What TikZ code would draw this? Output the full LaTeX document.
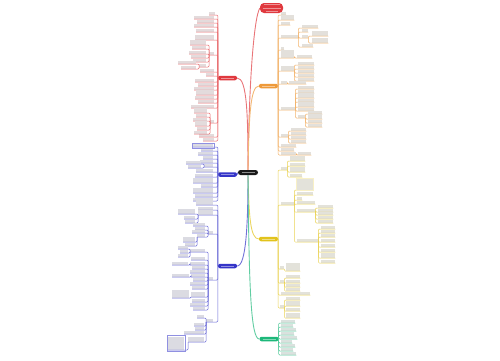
\documentclass[tikz,border=0pt]{standalone}
\usepackage{tikz}
\definecolor{redb}{HTML}{E0393E}
\definecolor{orangeb}{HTML}{EE9A3A}
\definecolor{yellowb}{HTML}{E2C31C}
\definecolor{blueb}{HTML}{3535C8}
\definecolor{greenb}{HTML}{1DB87A}
\colorlet{br}{black}
\tikzset{
  leaf/.style={anchor=south west, inner sep=0, fill=br!30!black!15},
  conn/.style={br!75, line width=0.5pt, rounded corners=1pt},
  mainnode/.style={fill=#1, rounded corners=2pt, minimum width=19pt, minimum height=4.5pt, inner sep=0, text=#1!55!white},
  mainlink/.style={#1!70, line width=0.9pt},
  framed/.style={draw=br!55, line width=0.4pt}
}
\newcommand\leafl[6]{%
  \pgfmathsetmacro\lw{#4-#3}\pgfmathsetmacro\lh{#5*2.6}%
  \node[leaf, minimum width=\lw pt, minimum height=\lh pt] (#1) at (#3,#2) {};
  \draw[conn] (#1.south west) -- (#1.south east) -| (#6);}
\newcommand\leafr[6]{%
  \pgfmathsetmacro\lw{#4-#3}\pgfmathsetmacro\lh{#5*2.6}%
  \node[leaf, minimum width=\lw pt, minimum height=\lh pt] (#1) at (#3,#2) {};
  \draw[conn] (#1.south east) -- (#1.south west) -| (#6);}

\begin{document}
\begin{tikzpicture}[x=1pt, y=-1pt]
	\useasboundingbox (0,0) rectangle (500,360);
	\node[mainnode=black!90, minimum width=20pt, minimum height=5pt, rounded corners=2.5pt, text=black!45] (c) at (248,172.5) {\rule{13pt}{0.8pt}};
	\node[mainnode=redb, minimum width=23pt, minimum height=10pt, rounded corners=4pt, align=center, font=\fontsize{3}{3.2}\selectfont] (top) at (271.5,8) {\rule{16pt}{0.8pt}\\\rule{18pt}{0.8pt}\\\rule{12pt}{0.8pt}};
	\node[mainnode=redb] (L1) at (227.5,78) {\rule{13pt}{0.8pt}};
	\node[mainnode=orangeb] (O) at (268.5,86) {\rule{13pt}{0.8pt}};
	\node[mainnode=blueb] (B1) at (227.5,174.5) {\rule{13pt}{0.8pt}};
	\node[mainnode=yellowb] (Y) at (268.5,239) {\rule{13pt}{0.8pt}};
	\node[mainnode=blueb] (B2) at (227.5,266) {\rule{13pt}{0.8pt}};
	\node[mainnode=greenb] (G) at (269,339) {\rule{13pt}{0.8pt}};

	\draw[mainlink=redb] (c.north) .. controls (249,80) and (254,18) .. (top.west);
	\draw[mainlink=redb] (c.north) .. controls (248,115) and (247,78) .. (L1.east);
	\draw[mainlink=orangeb] (c.north) .. controls (249,120) and (250,86) .. (O.west);
	\draw[mainlink=blueb] (c.west) -- (B1.east);
	\draw[mainlink=yellowb] (c.south) .. controls (249,215) and (250,239) .. (Y.west);
	\draw[mainlink=blueb] (c.south) .. controls (248,225) and (246,266) .. (B2.east);
	\draw[mainlink=greenb] (c.south) .. controls (249,290) and (251,339) .. (G.west);

	\colorlet{br}{redb}
	\foreach \n/\y/\a/\b/\h in {r1/15/209/215/1, r2/19/194/214/1, r3/23/197/214/1, r4/27/194/214/1, r5/32/196/214/1, r6/40/195/214/2, r7/55/209/214/1, r8/72/200/214/1, r9/76/206/214/1, r10/82/195/214/1, r11/86/198/214/1, r12/90/194/214/1, r13/95/196/214/2, r14/99/195/214/1, r15/103/198/214/1, r16/108/191/214/1, r17/123/210/214/1, r18/137/199/214/1, r19/141/203/214/1}
		{\leafl{\n}{\y}{\a}{\b}{\h}{L1.west}}
	\foreach \n/\y/\a/\b/\h in {r7a/45/190/206/2, r7b/49/192/206/1, r7c/54/189/206/1, r7d/58/191/206/1, r7e/62/193/206/1, r7f/67/199/206/1}
		{\leafl{\n}{\y}{\a}{\b}{\h}{r7.south west}}
	\foreach \n/\y/\a/\b/\h in {r7f1/64/178/196/1, r7f2/69/181/196/1}
		{\leafl{\n}{\y}{\a}{\b}{\h}{r7f.south west}}
	\foreach \n/\y/\a/\b/\h in {r17a/113/194/207/2, r17b/117/196/207/1, r17c/121/193/207/1, r17d/126/195/207/2, r17e/130/197/207/1, r17f/134/194/207/1}
		{\leafl{\n}{\y}{\a}{\b}{\h}{r17.south west}}

	\colorlet{br}{blueb}
	\foreach \n/\y/\a/\b/\h in {b1/147/193/213/1, b2/151/201/213/1, b3/155/198/213/1, b4/159/203/213/1, b5/163/200/213/1, b6/167/204/213/1, b7/172/196/213/1, b8/177/195/213/1, b9/183/193/213/2, b10/187/201/213/1, b11/193/193/213/2, b12/197/195/213/1, b13/201/193/213/1}
		{\leafl{\n}{\y}{\a}{\b}{\h}{B1.west}}
	\foreach \n/\y/\a/\b/\h in {b6a/164/186/201/1, b6b/168/188/201/1}
		{\leafl{\n}{\y}{\a}{\b}{\h}{b6.south west}}
	\draw[framed] ([shift={(-1,1)}]b1.south west) rectangle ([shift={(1,-1)}]b1.north east);

	\foreach \n/\y/\a/\b/\h in {bb1/205/196/213/2, bb2/210/198/213/1, bb3/215/198/213/2, bb4/234/208/213/1, bb5/280/208/213/1, bb6/322/206/213/1}
		{\leafl{\n}{\y}{\a}{\b}{\h}{B2.west}}
	\foreach \n/\y/\a/\b/\h in {bb3a/214/178/195/2, bb3b/219/184/195/1, bb3c/223/185/195/1}
		{\leafl{\n}{\y}{\a}{\b}{\h}{bb3.south west}}
	\foreach \n/\y/\a/\b/\h in {bb4a/226/193/205/1, bb4b/230/195/205/1, bb4c/233/192/205/1, bb4d/237/197/205/1}
		{\leafl{\n}{\y}{\a}{\b}{\h}{bb4.south west}}
	\foreach \n/\y/\a/\b/\h in {bb4d1/242/183/195/2, bb4d2/246/185/195/1}
		{\leafl{\n}{\y}{\a}{\b}{\h}{bb4d.south west}}
	\foreach \n/\y/\a/\b/\h in {bb5a/252/190/205/1, bb5b/260/191/205/1, bb5c/265/190/205/1, bb5d/269/192/205/1, bb5e/273/190/205/1, bb5f/277/191/205/1, bb5g/281/193/205/1, bb5h/285/190/205/1, bb5i/289/192/205/1, bb5j/297/191/205/2, bb5k/302/192/205/1, bb5l/306/190/205/1, bb5m/310/193/205/1}
		{\leafl{\n}{\y}{\a}{\b}{\h}{bb5.south west}}
	\foreach \n/\y/\a/\b/\h in {bb5a1/249/178/188/1, bb5a2/253/180/188/1, bb5a3/257/178/188/1}
		{\leafl{\n}{\y}{\a}{\b}{\h}{bb5a.south west}}
	\leafl{bb5c1}{265}{172}{188}{1}{bb5c.south west}
	\leafl{bb5f1}{277}{172}{189}{1}{bb5f.south west}
	\leafl{bb5j1}{298}{172}{189}{3}{bb5j.south west}
	\foreach \n/\y/\a/\b/\h in {bb6a/318/197/204/1, bb6b/326/194/204/1, bb6c/330/195/204/1, bb6d/334/184/204/1, bb6e/342/188/204/2}
		{\leafl{\n}{\y}{\a}{\b}{\h}{bb6.south west}}
	\leafl{bb6e1}{350}{168}{184}{5}{bb6e.south west}
	\draw[framed] ([shift={(-1,1)}]bb6e1.south west) rectangle ([shift={(1,-1)}]bb6e1.north east);

	\colorlet{br}{orangeb}
	\foreach \n/\y/\a/\b/\h in {o1/15/281/286/1, o2/20/281/294/2, o3/25/281/290/1, o4/38/281/298/1, o5/50/281/284/1, o6/58/281/294/3, o7/71/281/294/2, o8/84/281/287/1, o9/110/281/295/1, o10/137/281/288/1, o11/147/281/296/1, o12/151/281/294/1, o13/155/281/296/1}
		{\leafr{\n}{\y}{\a}{\b}{\h}{O.east}}
	\foreach \n/\y/\a/\b/\h in {o4a/28/302/318/1, o4b/32/302/308/1, o4c/38/302/308/1, o4d/47/302/313/1}
		{\leafr{\n}{\y}{\a}{\b}{\h}{o4.south east}}
	\foreach \n/\y/\a/\b/\h in {o4c1/36/312/328/2, o4c2/43/312/328/2}
		{\leafr{\n}{\y}{\a}{\b}{\h}{o4c.south east}}
	\leafr{o6a}{58}{297}{312}{1}{o6.south east}
	\foreach \n/\y/\a/\b/\h in {o7a/65/298/314/1, o7b/69/298/314/1, o7c/73/298/314/1, o7d/77/298/314/1, o7e/81/298/314/1}
		{\leafr{\n}{\y}{\a}{\b}{\h}{o7.south east}}
	\leafr{o8a}{84}{289}{306}{1}{o8.south east}
	\foreach \n/\y/\a/\b/\h in {o9a/89/298/314/1, o9b/93/298/314/1, o9c/98/298/314/2, o9d/102/298/314/1, o9e/107/298/314/2, o9f/111/298/314/1, o9g/118/298/305/1}
		{\leafr{\n}{\y}{\a}{\b}{\h}{o9.south east}}
	\foreach \n/\y/\a/\b/\h in {o9g1/114/308/322/1, o9g2/119/308/322/2, o9g3/123/308/322/1, o9g4/127/308/322/1}
		{\leafr{\n}{\y}{\a}{\b}{\h}{o9g.south east}}
	\foreach \n/\y/\a/\b/\h in {o10a/131/291/306/1, o10b/135/291/306/1, o10c/139/291/306/1, o10d/143/291/306/1}
		{\leafr{\n}{\y}{\a}{\b}{\h}{o10.south east}}
	\leafr{o13a}{155}{298}{311}{1}{o13.south east}

	\colorlet{br}{yellowb}
	\foreach \n/\y/\a/\b/\h in {y1/170/281/287/1, y2/205/281/294/1, y3/269/280/284/1, y4/283/280/284/1, y5/295/281/310/1, y6/308/280/284/1}
		{\leafr{\n}{\y}{\a}{\b}{\h}{Y.east}}
	\foreach \n/\y/\a/\b/\h in {y1a/161/290/305/2, y1b/166/290/305/1, y1c/172/290/305/2, y1d/177/290/302/1}
		{\leafr{\n}{\y}{\a}{\b}{\h}{y1.south east}}
	\foreach \n/\y/\a/\b/\h in {y2a/190/297/313/4, y2b/195/297/313/1, y2c/200/297/302/1, y2d/204/297/315/1, y2e/212/297/315/1, y2f/242/297/318/1}
		{\leafr{\n}{\y}{\a}{\b}{\h}{y2.south east}}
	\fill[yellowb!25] ([shift={(-1,1)}]y2a.south west) rectangle ([shift={(1,-1)}]y2a.north east);
	\node[leaf, minimum width=16pt, minimum height=10.4pt] (y2at) at (297,190) {};
	\foreach \n/\y/\a/\b/\h in {y2e1/208/318/333/1, y2e2/212/318/333/1, y2e3/215/318/333/1, y2e4/219/318/333/1, y2e5/223/318/333/1}
		{\leafr{\n}{\y}{\a}{\b}{\h}{y2e.south east}}
	\foreach \n/\y/\a/\b/\h in {y2f1/229/321/335/1, y2f2/233/321/335/1, y2f3/237/321/335/1, y2f4/242/321/335/1, y2f5/247/321/335/1, y2f6/252/321/335/1, y2f7/258/321/335/2, y2f8/263/321/335/1}
		{\leafr{\n}{\y}{\a}{\b}{\h}{y2f.south east}}
	\leafr{y3a}{271}{286}{300}{3}{y3.south east}
	\foreach \n/\y/\a/\b/\h in {y4a/278/286/300/1, y4b/283/286/300/1, y4c/287/286/300/1, y4d/291/286/300/1}
		{\leafr{\n}{\y}{\a}{\b}{\h}{y4.south east}}
	\foreach \n/\y/\a/\b/\h in {y6a/300/286/300/1, y6b/306/286/300/2, y6c/311/286/300/1, y6d/318/286/300/2}
		{\leafr{\n}{\y}{\a}{\b}{\h}{y6.south east}}

	\colorlet{br}{greenb}
	\foreach \n/\y/\a/\b/\h in {g1/323/281/295/1, g2/327/281/293/1, g3/331/281/296/1, g4/335/281/294/1, g5/339/281/297/1, g6/343/281/292/1, g7/347/281/295/1, g8/351/281/293/1, g9/355/281/296/1}
		{\leafr{\n}{\y}{\a}{\b}{\h}{G.east}}
\end{tikzpicture}
\end{document}
